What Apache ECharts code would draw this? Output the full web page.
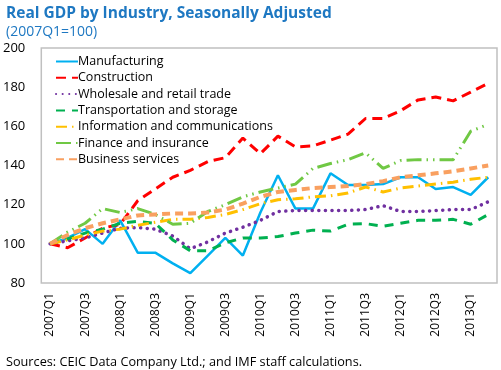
<!DOCTYPE html>
<html>
<head>
<meta charset="utf-8">
<script src="https://cdn.jsdelivr.net/npm/echarts@6/dist/echarts.min.js"></script>
<style>
html,body{margin:0;padding:0;background:#fff;}
#chart{width:501px;height:370px;}
</style>
</head>
<body>
<div id="chart"></div>
<script>
var categories = ["2007Q1","2007Q2","2007Q3","2007Q4","2008Q1","2008Q2","2008Q3","2008Q4",
  "2009Q1","2009Q2","2009Q3","2009Q4","2010Q1","2010Q2","2010Q3","2010Q4",
  "2011Q1","2011Q2","2011Q3","2011Q4","2012Q1","2012Q2","2012Q3","2012Q4","2013Q1","2013Q2"];

var manufacturing = [100,103,107.5,100,112,95.5,95.5,90,85,94,103,94,116,135,118,118,136,130,130,130.5,134,134,128,129,125,134];
var construction = [100,98,103,108,110,122,128,134,137.5,142,144,154,146,155,149.5,150,153,156,164,164,168,173.5,175,173,177.5,182];
var wholesale = [100,101.5,103,105.5,108,108.3,107.5,104,97.5,101,105.5,108.5,112,116.5,117,117,117,117,117.5,119.5,116.5,116.5,117,117.5,117.5,121.5];
var transportation = [100,102.5,105.5,107.5,110.5,111.5,110.5,102,96.5,96.5,100.5,103,103,103.7,105.5,107,106.5,110,110.3,109,110.5,112,112,112.5,110,115];
var information = [100,102,104.5,106.5,107.5,109.5,111,112.5,112.5,113.5,115,117.5,120.5,122.5,123,124,124.5,126,129,126.5,128.5,129.5,130.5,131.5,133,134];
var finance = [100,106,110.5,118,116,118,115,110,110.5,116.5,120,124,126.5,128.5,130.5,138.5,141,143,146.5,138.5,142.5,143,143,143,157.5,161];
var business = [100,104.5,108,110.5,112.5,114.5,115,115.5,115.5,116,117.5,120.5,124,126.5,127.5,128.5,129,129.5,130.5,132,134,135,136,137,138.5,140];

var seriesNames = ["Manufacturing","Construction","Wholesale and retail trade","Transportation and storage",
  "Information and communications","Finance and insurance","Business services"];

var yTicks = [80,100,120,140,160,180,200];

var FONT = "Open Sans";
var chart = echarts.init(document.getElementById('chart'), null, {renderer:'canvas'});

function mk(name, data, color, width, type, cap) {
  return {
    name: name, type: 'line', data: data, symbol: 'none', smooth: false,
    lineStyle: {color: color, width: width, type: type, cap: cap || 'butt'},
    itemStyle: {color: color},
    emphasis: {disabled: true}
  };
}

var option = {
  animation: false,
  textStyle: {fontFamily: FONT},
  title: [
    {text: 'Real GDP by Industry, Seasonally Adjusted', subtext: '(2007Q1=100)', left: 1, top: 1,
     itemGap: 3,
     textStyle: {fontFamily: FONT, fontSize: 15.5, fontWeight: 'bold', color: '#1E78C2'},
     subtextStyle: {fontFamily: FONT, fontSize: 14, color: '#1E78C2'}},
    {text: 'Sources: CEIC Data Company Ltd.; and IMF staff calculations.', left: 1, top: 351,
     textStyle: {fontFamily: FONT, fontSize: 12.7, fontWeight: 'normal', color: '#000'}}
  ],
  grid: {left: 40, right: 4, top: 48, bottom: 87, show: true, borderColor: '#C0C0C0', borderWidth: 1.5, containLabel: false},
  legend: {
    orient: 'vertical', left: 50, top: 50, itemWidth: 22, itemHeight: 10, itemGap: 3.3,
    itemStyle: {opacity: 0, borderWidth: 0},
    textStyle: {fontFamily: FONT, fontSize: 12.5, color: '#000', padding: [0,0,0,-5]},
    data: seriesNames
  },
  xAxis: {
    type: 'category', data: categories, boundaryGap: true,
    axisLine: {show: false}, axisTick: {show: false},
    axisLabel: {interval: 1, rotate: 90, fontFamily: FONT, fontSize: 12, color: '#000', margin: 10}
  },
  yAxis: {
    type: 'value', min: yTicks[0], max: yTicks[yTicks.length-1], interval: 20,
    axisLine: {show: false}, axisTick: {show: false}, splitLine: {show: false},
    axisLabel: {fontFamily: FONT, fontSize: 13, color: '#000', margin: 16}
  },
  series: [
    mk(seriesNames[0], manufacturing, '#00B0F0', 2.5, 'solid'),
    mk(seriesNames[1], construction, '#FF0000', 3, [10, 6]),
    mk(seriesNames[2], wholesale, '#7030A0', 3.5, [0.1, 6.5], 'round'),
    mk(seriesNames[3], transportation, '#00B050', 3, [9, 7]),
    mk(seriesNames[4], information, '#FFC000', 3, [11, 5, 1.5, 5]),
    mk(seriesNames[5], finance, '#70C844', 3, [15, 5, 1.5, 5, 1.5, 5]),
    mk(seriesNames[6], business, '#F9A060', 4, [8, 5])
  ]
};
chart.setOption(option);
</script>
</body>
</html>
